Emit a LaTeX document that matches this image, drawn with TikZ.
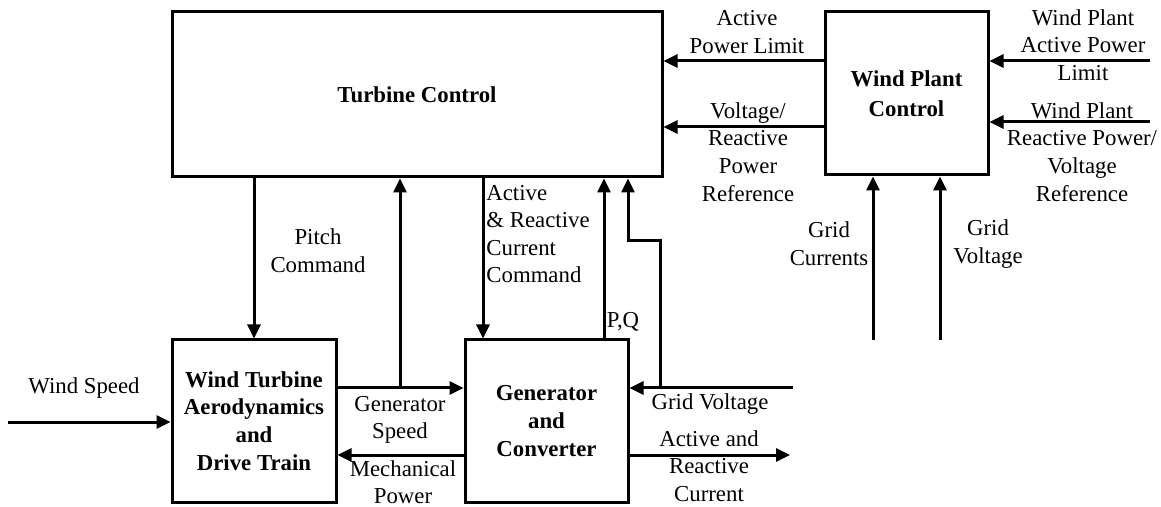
\documentclass[tikz,border=0pt]{standalone}
\usepackage{fontspec}
\setmainfont{Liberation Serif}
\usetikzlibrary{arrows.meta}

\tikzset{
  blk/.style={draw, line width=1.5pt, inner sep=0pt, font=\fontsize{11.4}{13.8}\selectfont\bfseries, align=center},
  conn/.style={line width=1.5pt, -{Triangle[length=7pt,width=6.5pt]}},
  wire/.style={line width=1.5pt},
  lbl/.style={font=\fontsize{11.4}{13.8}\selectfont, align=center, inner sep=0pt}
}

\begin{document}
\begin{tikzpicture}[x=0.5pt, y=-0.5pt]
    \useasboundingbox (0,0) rectangle (1161,507);

    % Blocks
    \node[blk, minimum width=245pt, minimum height=82.5pt] (tc) at (417,94.5) {Turbine Control};
    \node[blk, minimum width=81.5pt, minimum height=81.5pt] (wpc) at (906.5,93.5) {Wind Plant\\[1pt]Control};
    \node[blk, minimum width=82pt, minimum height=81pt] (wta) at (254,421) {Wind Turbine\\Aerodynamics\\and\\Drive Train};
    \node[blk, minimum width=81.5pt, minimum height=81pt] (gc) at (546.5,421) {Generator\\and\\Converter};

    % Free ends
    \coordinate (wpin1) at (1150,61);
    \coordinate (wpin2) at (1150,122);
    \coordinate (gcin) at (873,340);
    \coordinate (gvin) at (940,340);
    \coordinate (wsin) at (8,422);
    \coordinate (gridv) at (793,388);
    \coordinate (iout) at (790,455);
    \coordinate (gvtap) at (660,388);

    % Wind plant control
    \draw[conn] (wpc.west |- 0,61) -- (tc.east |- 0,61);
    \draw[conn] (wpc.west |- 0,127) -- (tc.east |- 0,127);
    \draw[conn] (wpin1) -- (wpc.east |- wpin1);
    \draw[conn] (wpin2) -- (wpc.east |- wpin2);
    \draw[conn] (gcin) -- (gcin |- wpc.south);
    \draw[conn] (gvin) -- (gvin |- wpc.south);

    % Turbine control links
    \draw[conn] (tc.south -| wta.north) -- (wta.north);
    \draw[conn] (tc.south -| 483,0) -- (gc.north -| 483,0);
    \draw[conn] (gc.north -| 604,0) -- (tc.south -| 604,0);

    % Generator speed and mechanical power
    \draw[conn] (wta.east |- 0,388) -- (gc.west |- 0,388);
    \draw[conn] (400,388) -- (tc.south -| 400,0);
    \draw[conn] (gc.west |- 0,455) -- (wta.east |- 0,455);

    % Grid side
    \draw[conn] (wsin) -- (wta.west |- wsin);
    \draw[conn] (gridv) -- (gc.east |- gridv);
    \draw[conn] (gvtap) -- (660,241) -- (628,241) -- (tc.south -| 628,0);
    \draw[conn] (gc.east |- iout) -- (iout);

    % Labels
    \node[lbl] (l1) at (747,32) {Active\\Power Limit};
    \node[lbl] (l2) at (748,152) {Voltage/\\Reactive\\Power\\Reference};
    \node[lbl] (l3) at (1083,45) {Wind Plant\\Active Power\\Limit};
    \node[lbl] (l4) at (1082,152) {Wind Plant\\Reactive Power/\\Voltage\\Reference};
    \node[lbl] (l5) at (829,244) {Grid\\Currents};
    \node[lbl] (l6) at (988,244) {Grid\\Voltage};
    \node[lbl] (l7) at (318,251) {Pitch\\Command};
    \node[lbl, align=left, anchor=west] (l8) at (486,234) {Active\\\& Reactive\\Current\\Command};
    \node[lbl] (l9) at (623,322) {P,Q};
    \node[lbl] (l10) at (400,420) {Generator\\Speed};
    \node[lbl] (l11) at (403,482) {Mechanical\\Power};
    \node[lbl] (l12) at (710,404) {Grid Voltage};
    \node[lbl] (l13) at (709,466) {Active and\\Reactive\\Current};
    \node[lbl] (l14) at (84,388) {Wind Speed};
\end{tikzpicture}
\end{document}
